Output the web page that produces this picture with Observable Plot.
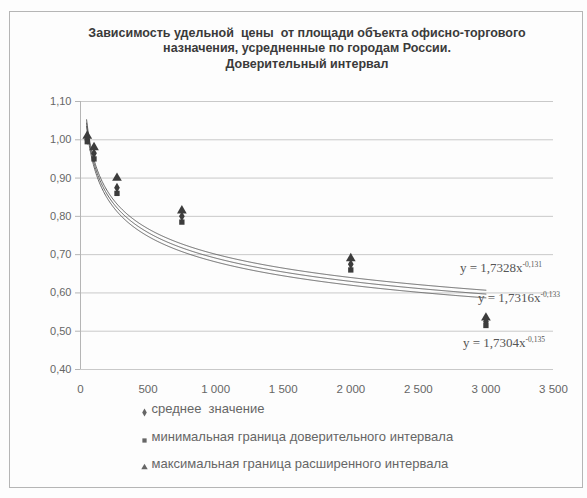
<!DOCTYPE html>
<html><head><meta charset="utf-8">
<script src="https://cdn.jsdelivr.net/npm/d3@7"></script>
<script src="https://cdn.jsdelivr.net/npm/@observablehq/plot@0.6"></script>
<style>
body{margin:0;background:#fff;}
#wrap{position:relative;width:587px;height:498px;overflow:hidden;background:#fdfdfd;}
#frame{position:absolute;left:9px;top:11px;width:574px;height:477px;border:1px solid #b5b5b5;box-sizing:border-box;}
#chart{position:absolute;left:0;top:0;}
</style></head><body>
<div id="wrap"><div id="frame"></div><div id="chart"></div></div>
<script>
// ---- data ----
const titleLines = [
  "Зависимость удельной  цены  от площади объекта офисно-торгового",
  "назначения, усредненные по городам России.",
  "Доверительный интервал"
];
const areas      = [50, 100, 270, 750, 2000, 3000];
const meanValues = [1.00, 0.965, 0.875, 0.80, 0.675, 0.525];
const minValues  = [0.995, 0.95, 0.86, 0.785, 0.66, 0.515];
const maxValues  = [1.01, 0.98, 0.90, 0.815, 0.69, 0.535];
const seriesNames = [
  "среднее  значение",
  "минимальная граница доверительного интервала",
  "максимальная граница расширенного интервала"
];
const seriesSymbols = ["diamond", "square", "triangle"];
// power trendlines y = a * x^b (max, mean, min)
const trendA = [1.7328, 1.7316, 1.7304];
const trendB = [-0.131, -0.133, -0.135];
const trendLabels = ["y = 1,7328x^-0,131", "y = 1,7316x^-0,133", "y = 1,7304x^-0,135"];
const trendRange = [45, 3000];
const xTicks = [0, 500, 1000, 1500, 2000, 2500, 3000, 3500];
const yTicks = [0.4, 0.5, 0.6, 0.7, 0.8, 0.9, 1.0, 1.1];

// ---- build ----
const locale = d3.formatLocale({decimal: ",", thousands: "\u00a0", grouping: [3], currency: ["", ""]});
const fmtX = locale.format(",d");
const fmtY = d => d.toFixed(2).replace(".", ",");

const seriesValues = [meanValues, minValues, maxValues];
const points = seriesValues.map(vals => areas.map((a, i) => ({x: a, y: vals[i]})));

const trendSeries = trendA.map((a, k) => {
  const xs = d3.range(trendRange[0], trendRange[1], 5).concat([trendRange[1]]);
  return xs.map(x => ({x, y: a * Math.pow(x, trendB[k]), k}));
});
const trendEnds = trendA.map((a, k) => ({x: trendRange[1], y: a * Math.pow(trendRange[1], trendB[k]), label: trendLabels[k]}));

const font = "Liberation Sans, Arial, sans-serif";
const markFill = "#3c3c3c";
const labelOffsets = [{dx: -26, dy: -22}, {dx: -8, dy: 4}, {dx: -23, dy: 45}];

const marks = [
  Plot.ruleY(yTicks, {stroke: "#c9c9c9", strokeWidth: 1}),
  Plot.ruleX([0], {stroke: "#b5b5b5"}),
  Plot.axisY({ticks: yTicks, tickFormat: fmtY, tickSize: 5, tickPadding: 4, stroke: "#b5b5b5", fill: "#666", fontSize: 11, fontFamily: font, label: null}),
  Plot.axisX({ticks: xTicks, tickFormat: fmtX, tickSize: 0, tickPadding: 15, fill: "#666", fontSize: 11.5, fontFamily: font, label: null}),
  ...trendSeries.map(s => Plot.line(s, {x: "x", y: "y", stroke: "#555", strokeWidth: 0.9, curve: "linear"})),
  ...points.map((p, k) => Plot.dot(p, {x: "x", y: "y", symbol: seriesSymbols[k], r: k === 2 ? 3.6 : 3, fill: markFill, stroke: "none"})),
  ...trendEnds.map((e, k) => Plot.text([e], {x: "x", y: "y", text: "label", textAnchor: "start", dx: labelOffsets[k].dx, dy: labelOffsets[k].dy, fontSize: 13, fontFamily: "Liberation Serif, serif", fill: "#555"})),
  ...titleLines.map((t, i) => Plot.text([t], {frameAnchor: "top", dx: -10, dy: [-73, -58, -42][i], fontSize: 12.5, fontWeight: "bold", fontFamily: font, fill: "#3a3a3a"})),
  ...seriesNames.map((t, i) => Plot.dot([t], {frameAnchor: "bottom-left", dx: 64, dy: [43, 71, 98][i], symbol: seriesSymbols[i], r: 2.4, fill: "#666"})),
  ...seriesNames.map((t, i) => Plot.text([t], {frameAnchor: "bottom-left", dx: 71, dy: [43, 71, 98][i], textAnchor: "start", fontSize: 13, fontFamily: font, fill: "#666"}))
];

const chart = Plot.plot({
  width: 587,
  height: 498,
  marginLeft: 80,
  marginRight: 34,
  marginTop: 101,
  marginBottom: 129,
  style: {background: "transparent", overflow: "visible"},
  x: {domain: [0, 3500], label: null},
  y: {domain: [0.4, 1.1], label: null},
  marks
});

// superscript exponents in trendline equations
chart.querySelectorAll("text").forEach(el => {
  const s = el.textContent;
  if (s.includes("^") && el.children.length === 0) {
    const [base, exp] = s.split("^");
    el.textContent = base;
    const ts = document.createElementNS("http://www.w3.org/2000/svg", "tspan");
    ts.setAttribute("dy", "-5");
    ts.setAttribute("font-size", "7.5");
    ts.textContent = exp;
    el.appendChild(ts);
  }
});

document.getElementById("chart").appendChild(chart);
</script>
</body></html>
